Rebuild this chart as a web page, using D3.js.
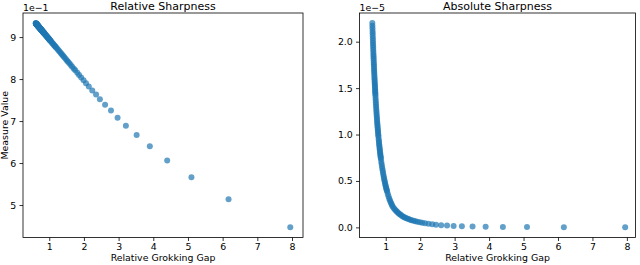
<!DOCTYPE html>
<html>
  <head>
    <meta charset="utf-8">
    <script src="https://d3js.org/d3.v7.min.js"></script>
    <style>
      body {
        margin: 0;
        background: #fff;
      }
      svg {
        display: block;
        font-family: 'DejaVu Sans', sans-serif;
      }
      .domain {
        display: none;
      }
      .tick line {
        stroke: #000;
        stroke-width: 0.8;
      }
      .tick text {
        fill: #000;
        font-family: 'DejaVu Sans', sans-serif;
        font-size: 9.4px;
      }
      .frame {
        fill: none;
        stroke: #000;
        stroke-width: 0.8;
      }
      .title {
        font-size: 11px;
        text-anchor: middle;
      }
      .axis-label {
        font-size: 9.4px;
      }
    </style>
  </head>
  <body>
    <svg id="chart" width="640" height="265"></svg>
    <script>
      // relative grokking gap, shared by both panels
      const xGap = [
        0.610, 0.6125, 0.615, 0.6175, 0.620, 0.6225, 0.625, 0.6275, 0.630, 0.6325,
        0.635, 0.6375, 0.640, 0.6425, 0.645, 0.6475, 0.650, 0.6525, 0.655, 0.6575,
        0.660, 0.6625, 0.665, 0.6675, 0.670, 0.6725, 0.675, 0.6775, 0.680, 0.6825,
        0.685, 0.6875, 0.690, 0.6925, 0.695, 0.6975, 0.700,
        0.704, 0.708, 0.712, 0.716, 0.720, 0.724, 0.728, 0.732, 0.736, 0.740, 0.744,
        0.748, 0.752, 0.756, 0.760, 0.764, 0.768, 0.772, 0.776, 0.780, 0.784, 0.788,
        0.795, 0.800, 0.805, 0.810, 0.815, 0.820, 0.825, 0.830, 0.835, 0.840, 0.845,
        0.850, 0.855, 0.860, 0.870, 0.880, 0.890, 0.900, 0.910, 0.920, 0.930, 0.940,
        0.950, 0.960, 0.970, 0.980, 0.990, 1.000, 1.010, 1.020, 1.030,
        1.04, 1.06, 1.08, 1.10, 1.12, 1.14, 1.16, 1.18, 1.20, 1.23, 1.26, 1.29, 1.32,
        1.35, 1.38, 1.41, 1.44, 1.475, 1.51,
        1.54, 1.58, 1.62, 1.66, 1.71, 1.75, 1.81, 1.86, 1.92, 1.99,
        2.06, 2.14, 2.24, 2.35, 2.46, 2.61, 2.78, 2.97, 3.21, 3.52, 3.90, 4.40, 5.10, 6.17, 7.95
      ];

      // relative sharpness, in units of 1e-1
      const relSharp = [
        9.330, 9.328, 9.325, 9.323, 9.320, 9.318, 9.315, 9.313, 9.310, 9.308,
        9.306, 9.303, 9.301, 9.298, 9.296, 9.293, 9.291, 9.288, 9.286, 9.283,
        9.281, 9.278, 9.276, 9.274, 9.271, 9.269, 9.266, 9.264, 9.261, 9.259,
        9.256, 9.254, 9.251, 9.249, 9.246, 9.244, 9.242,
        9.238, 9.234, 9.230, 9.226, 9.222, 9.218, 9.214, 9.210, 9.206, 9.202, 9.198,
        9.194, 9.190, 9.186, 9.182, 9.178, 9.175, 9.171, 9.167, 9.163, 9.159, 9.155,
        9.148, 9.143, 9.138, 9.133, 9.128, 9.123, 9.118, 9.113, 9.108, 9.104, 9.099,
        9.094, 9.089, 9.084, 9.074, 9.064, 9.054, 9.045, 9.035, 9.025, 9.015, 9.005,
        8.995, 8.985, 8.976, 8.966, 8.956, 8.946, 8.936, 8.926, 8.916,
        8.907, 8.887, 8.867, 8.848, 8.828, 8.808, 8.788, 8.769, 8.749, 8.719, 8.690, 8.660, 8.631,
        8.601, 8.572, 8.542, 8.513, 8.478, 8.444,
        8.414, 8.375, 8.335, 8.296, 8.247, 8.207, 8.148, 8.099, 8.040, 7.971,
        7.900, 7.820, 7.730, 7.630, 7.520, 7.390, 7.250, 7.080, 6.890, 6.670, 6.400, 6.060, 5.660, 5.135, 4.470
      ];

      // absolute sharpness, in units of 1e-5
      const absSharp = [
        2.200, 2.172, 2.144, 2.116, 2.090, 2.063, 2.037, 2.011, 1.986, 1.961,
        1.937, 1.913, 1.889, 1.866, 1.843, 1.821, 1.799, 1.777, 1.756, 1.735,
        1.714, 1.693, 1.673, 1.654, 1.634, 1.615, 1.596, 1.577, 1.559, 1.541,
        1.523, 1.506, 1.489, 1.472, 1.455, 1.438, 1.422,
        1.397, 1.372, 1.348, 1.324, 1.301, 1.278, 1.256, 1.234, 1.213, 1.192, 1.172,
        1.152, 1.133, 1.114, 1.096, 1.078, 1.060, 1.043, 1.026, 1.009, 0.993, 0.977,
        0.950, 0.931, 0.912, 0.894, 0.876, 0.859, 0.842, 0.826, 0.810, 0.794, 0.779,
        0.764, 0.750, 0.736, 0.708, 0.682, 0.658, 0.634, 0.612, 0.590, 0.570, 0.549,
        0.529, 0.511, 0.493, 0.475, 0.459, 0.443, 0.428, 0.414, 0.400,
        0.386, 0.359, 0.335, 0.312, 0.292, 0.273, 0.256, 0.240, 0.225, 0.209, 0.195, 0.182, 0.170,
        0.160, 0.150, 0.141, 0.132, 0.123, 0.115,
        0.109, 0.102, 0.096, 0.090, 0.083, 0.078, 0.072, 0.067, 0.061, 0.056,
        0.050, 0.044, 0.038, 0.033, 0.029, 0.024, 0.019, 0.016, 0.012, 0.009, 0.007, 0.005, 0.003, 0.002, 0.001
      ];

      const xTicks = [1, 2, 3, 4, 5, 6, 7, 8];
      const relTicks = [5, 6, 7, 8, 9];
      const absTicks = [0, 0.5, 1.0, 1.5, 2.0];

      const svg = d3.select('#chart');

      const drawPanel = p => {
        const xScale = d3.scaleLinear()
          .domain(p.xDomain)
          .range([p.left, p.right]);
        const yScale = d3.scaleLinear()
          .domain(p.yDomain)
          .range([p.bottom, p.top]);

        const g = svg.append('g');

        g.append('g').selectAll('circle').data(xGap)
          .enter().append('circle')
            .attr('cx', d => xScale(d))
            .attr('cy', (d, i) => yScale(p.values[i]))
            .attr('r', 3)
            .attr('fill', '#1f77b4')
            .attr('fill-opacity', 0.7);

        g.append('rect')
          .attr('class', 'frame')
          .attr('x', p.left)
          .attr('y', p.top)
          .attr('width', p.right - p.left)
          .attr('height', p.bottom - p.top);

        g.append('g')
          .attr('transform', `translate(0,${p.bottom})`)
          .call(d3.axisBottom(xScale)
            .tickValues(xTicks)
            .tickFormat(d3.format('d'))
            .tickSize(3.5)
            .tickPadding(2.4));

        g.append('g')
          .attr('transform', `translate(${p.left},0)`)
          .call(d3.axisLeft(yScale)
            .tickValues(p.yTicks)
            .tickFormat(p.yFormat)
            .tickSize(3.5)
            .tickPadding(3.2));

        g.append('text')
          .attr('class', 'title')
          .attr('x', (p.left + p.right) / 2)
          .attr('y', 10.3)
          .text(p.title);

        g.append('text')
          .attr('class', 'axis-label')
          .attr('x', p.left)
          .attr('y', 10.6)
          .text(p.offset);

        g.append('text')
          .attr('class', 'axis-label')
          .attr('x', (p.left + p.right) / 2)
          .attr('y', 261)
          .attr('text-anchor', 'middle')
          .text('Relative Grokking Gap');

        if (p.yLabel) {
          g.append('text')
            .attr('class', 'axis-label')
            .attr('transform', `translate(8.2,${(p.top + p.bottom) / 2}) rotate(-90)`)
            .attr('text-anchor', 'middle')
            .text(p.yLabel);
        }
      };

      drawPanel({
        left: 23, right: 303, top: 13, bottom: 237.5,
        xDomain: [0.243, 8.317],
        yDomain: [4.227, 9.573],
        values: relSharp,
        yTicks: relTicks,
        yFormat: d3.format('d'),
        title: 'Relative Sharpness',
        offset: '1e\u22121',
        yLabel: 'Measure Value'
      });

      drawPanel({
        left: 359.5, right: 635.5, top: 13, bottom: 237.5,
        xDomain: [0.238, 8.25],
        yDomain: [-0.109, 2.309],
        values: absSharp,
        yTicks: absTicks,
        yFormat: d3.format('.1f'),
        title: 'Absolute Sharpness',
        offset: '1e\u22125',
        yLabel: null
      });
    </script>
  </body>
</html>
